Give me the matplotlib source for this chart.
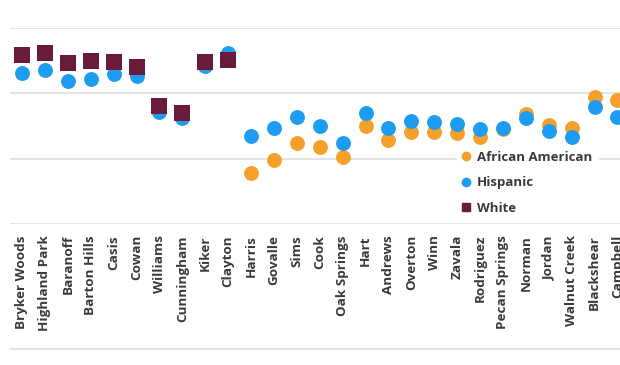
import matplotlib
matplotlib.use("Agg")
from matplotlib import pyplot as plt
from matplotlib.lines import Line2D
import numpy as np

schools = ["Bryker Woods", "Highland Park", "Baranoff", "Barton Hills", "Casis", "Cowan",
           "Williams", "Cunningham", "Kiker", "Clayton", "Harris", "Govalle", "Sims", "Cook",
           "Oak Springs", "Hart", "Andrews", "Overton", "Winn", "Zavala", "Rodriguez",
           "Pecan Springs", "Norman", "Jordan", "Walnut Creek", "Blackshear", "Campbell"]

# None = no value shown for that school
african_american = [None, None, None, None, None, None, None, None, None, None,
                    44.5, 49.5, 56.0, 54.5, 50.7, 62.5, 57.2, 60.2, 60.2, 59.9,
                    58.3, 61.4, 67.1, 62.9, 61.8, 73.6, 72.5]
hispanic = [82.8, 84.0, 79.8, 80.5, 82.5, 81.7, 67.9, 65.6, 85.5, 90.5,
            58.7, 61.8, 66.0, 62.5, 56.0, 67.5, 61.8, 64.4, 64.1, 63.3,
            61.4, 61.8, 65.6, 60.6, 58.3, 69.8, 66.0]
white = [89.7, 90.5, 86.7, 87.4, 87.0, 85.1, 70.2, 67.5, 87.0, 87.8,
         None, None, None, None, None, None, None, None, None, None,
         None, None, None, None, None, None, None]

grid_values = [25, 50, 75, 100]

orange = "#F6A02C"
blue = "#1E9CF2"
maroon = "#6A1A3A"
text_color = "#3a3a3a"

plt.rcParams['font.family'] = ['Open Sans', 'DejaVu Sans']

fig = plt.figure(figsize=(6.2, 3.65), dpi=100)
W, H = 620, 365

# the plot runs past the right edge of the picture, as in the source
ax_left, ax_width = 10, 734
ax = fig.add_axes([ax_left / W, (H - 224) / H, ax_width / W, 196 / H])

x = np.arange(len(schools))


def split(values):
    xs = [i for i, v in enumerate(values) if v is not None]
    ys = [v for v in values if v is not None]
    return xs, ys


xa, ya = split(african_american)
xh, yh = split(hispanic)
xw, yw = split(white)

ax.scatter(xa, ya, s=115, color=orange, marker="o", linewidths=0, zorder=3, clip_on=False)
ax.scatter(xh, yh, s=115, color=blue, marker="o", linewidths=0, zorder=4, clip_on=False)
ax.scatter(xw, yw, s=125, color=maroon, marker="s", linewidths=0, zorder=5, clip_on=False)

spacing = 22.9
x0 = -(22 - ax_left) / spacing
ax.set_xlim(x0, x0 + ax_width / spacing)
ax.set_ylim(25, 100)

ax.set_yticks(grid_values)
ax.set_yticklabels([])
ax.tick_params(axis="y", length=0)
ax.grid(axis="y", color="#dedede", linewidth=1.2)
ax.set_axisbelow(True)

ax.set_xticks(x)
ax.set_xticklabels(schools, rotation=90, fontsize=9.7, fontweight="bold", color=text_color,
                   va="top", ha="center")
ax.tick_params(axis="x", length=0, pad=8)

for s in ax.spines.values():
    s.set_visible(False)

# separator line at the bottom
fig.add_artist(Line2D([10 / W, 1.0], [(H - 349) / H] * 2, color="#dedede", linewidth=1.2))

handles = [
    Line2D([], [], marker="o", linestyle="", color=orange, markersize=6),
    Line2D([], [], marker="o", linestyle="", color=blue, markersize=6),
    Line2D([], [], marker="s", linestyle="", color=maroon, markersize=6),
]
leg = fig.legend(handles, ["African American", "Hispanic", "White"],
                 loc="upper left", bbox_to_anchor=(450 / W, (H - 139) / H),
                 frameon=True, fancybox=False, framealpha=1, edgecolor="white",
                 handlelength=0.6, handletextpad=0.55, labelspacing=0.95,
                 borderpad=0.4, prop={"size": 9.5, "weight": "bold"})
for t in leg.get_texts():
    t.set_color(text_color)

fig.savefig("out.png", dpi=100, facecolor="white")
